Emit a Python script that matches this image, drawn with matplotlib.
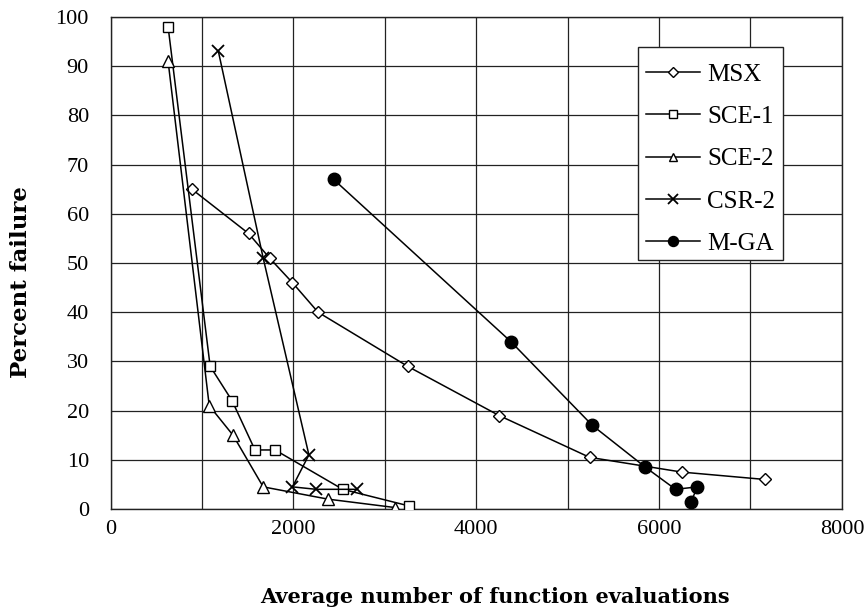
import matplotlib
matplotlib.use("Agg")
import matplotlib.pyplot as plt
from matplotlib.patches import Rectangle

# Average number of function evaluations vs. percent failure for each method
msx_x = [890, 1510, 1740, 1990, 2270, 3250, 4250, 5240, 6250, 7160]
msx_y = [65, 56, 51, 46, 40, 29, 19, 10.5, 7.5, 6]

sce1_x = [630, 1090, 1330, 1580, 1800, 2540, 3270]
sce1_y = [98, 29, 22, 12, 12, 4, 0.6]

sce2_x = [630, 1080, 1340, 1670, 2380, 3110]
sce2_y = [91, 21, 15, 4.5, 2, 0.3]

csr2_x = [1180, 1670, 2170, 1990, 2250, 2700]
csr2_y = [93, 51, 11, 4.5, 4, 4]

mga_x = [2440, 4380, 5270, 5850, 6180, 6420, 6350]
mga_y = [67, 34, 17, 8.5, 4, 4.5, 1.5]

x_ticks = [0, 2000, 4000, 6000, 8000]
y_ticks = [0, 10, 20, 30, 40, 50, 60, 70, 80, 90, 100]

plt.rcParams["font.family"] = ["Liberation Serif", "DejaVu Serif"]

fig = plt.figure(figsize=(8.66, 6.09), dpi=100)
ax = fig.add_axes([0.1276, 0.1642, 0.8446, 0.8079])

lw = 1.1
ax.plot(msx_x, msx_y, color="black", lw=lw, marker="D", ms=6, mfc="white",
        mec="black", mew=1.0, label="MSX", zorder=4)
ax.plot(sce1_x, sce1_y, color="black", lw=lw, marker="s", ms=7, mfc="white",
        mec="black", mew=1.0, label="SCE-1", zorder=4)
ax.plot(sce2_x, sce2_y, color="black", lw=lw, marker="^", ms=8, mfc="white",
        mec="black", mew=1.0, label="SCE-2", zorder=4)
ax.plot(csr2_x, csr2_y, color="black", lw=lw, marker="x", ms=9, mfc="white",
        mec="black", mew=1.3, label="CSR-2", zorder=4)
ax.plot(mga_x, mga_y, color="black", lw=lw, marker="o", ms=9, mfc="black",
        mec="black", label="M-GA", zorder=4)

ax.set_xlim(0, 8000)
ax.set_ylim(0, 100)
ax.set_xticks(x_ticks)
ax.set_yticks(y_ticks)
ax.set_xticks(range(0, 8001, 1000), minor=True)
ax.grid(True, which="both", color="#222222", lw=0.9)
ax.set_axisbelow(True)
ax.tick_params(axis="both", which="both", length=0, labelsize=16)
ax.tick_params(axis="y", pad=15.5)
ax.tick_params(axis="x", pad=8)
for s in ax.spines.values():
    s.set_color("#222222")
    s.set_linewidth(1.0)

ax.set_xlabel("Average number of function evaluations", family=["DejaVu Serif"],
              fontsize=15, fontweight="bold")
ax.set_ylabel("Percent failure", family=["DejaVu Serif"], fontsize=16.5,
              fontweight="bold")
ax.xaxis.set_label_coords(0.5256, -0.1585)
ax.yaxis.set_label_coords(-0.1073, 0.461)

# legend frame drawn as a separate box so the entries can sit freely inside
ax.add_patch(Rectangle((0.7211, 0.5061), 0.1982, 0.4329, transform=ax.transAxes,
                       facecolor="white", edgecolor="#222222", lw=1.0,
                       zorder=4.5, clip_on=False))
leg = ax.legend(loc="upper left", bbox_to_anchor=(0.7321, 0.9055), fontsize=18,
                handlelength=2.16, handletextpad=0.28, labelspacing=0.79,
                borderpad=0, borderaxespad=0, frameon=False, markerscale=0.8)
leg.set_zorder(5)

fig.savefig("out.png", dpi=100)
